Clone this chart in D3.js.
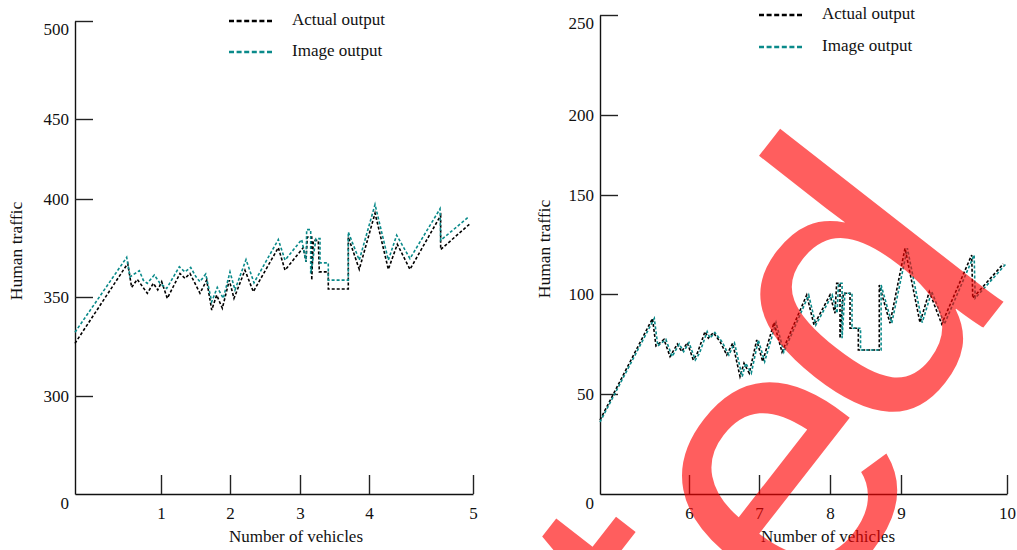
<!DOCTYPE html>
<html>
<head>
<meta charset="utf-8">
<script src="https://cdn.jsdelivr.net/npm/d3@7"></script>
<style>
  body { margin: 0; background: #fff; }
  svg text { font-family: "Liberation Serif", "Times New Roman", serif; }
</style>
</head>
<body>
<svg id="chart" width="1017" height="550"></svg>
<script>
// tick values
const leftXTicks = [1, 2, 3, 4, 5];
const leftYTicks = [0, 300, 350, 400, 450, 500];
const rightXTicks = [6, 7, 8, 9, 10];
const rightYTicks = [0, 50, 100, 150, 200, 250];
const seriesNames = ["Actual output", "Image output"];

// [number of vehicles, human traffic]
const leftActual = [[0,326.6],[0.613,367.1],[0.659,354.9],[0.724,359.0],[0.841,351.9],[0.911,357.0],[0.962,353.6],[1.010,357.8],[1.091,349.3],[1.275,362.0],[1.348,359.5],[1.420,362.0],[1.565,351.9],[1.662,358.6],[1.735,343.4],[1.807,351.0],[1.889,344.3],[1.990,358.6],[2.057,349.3],[2.214,363.7],[2.333,352.7],[2.690,375.2],[2.786,363.7],[3.048,375.2],[3.087,367.9],[3.106,380.6],[3.170,380.6],[3.170,358.6],[3.193,378.9],[3.265,378.9],[3.280,362.8],[3.410,362.8],[3.410,354.1],[3.700,354.1],[3.700,380.6],[3.859,364.1],[4.058,392.8],[4.186,364.1],[4.272,376.9],[4.394,364.1],[4.689,391.6],[4.689,374.2],[4.971,387.4]];
const leftImage = [[0,332.2],[0.601,370.2],[0.640,360.3],[0.748,363.4],[0.794,358.6],[0.841,357.0],[0.922,361.2],[0.988,357.0],[1.083,354.4],[1.265,365.4],[1.348,362.8],[1.430,365.1],[1.507,360.3],[1.565,357.8],[1.648,361.7],[1.735,347.6],[1.816,354.9],[1.903,349.3],[2.000,362.8],[2.071,353.6],[2.229,369.1],[2.343,357.3],[2.690,379.3],[2.786,368.8],[3.025,379.3],[3.087,367.9],[3.097,384.4],[3.155,384.4],[3.155,362.0],[3.232,379.8],[3.290,379.8],[3.290,367.4],[3.410,367.4],[3.410,358.6],[3.700,358.6],[3.700,383.1],[3.859,368.8],[4.058,397.2],[4.186,368.8],[4.266,381.5],[4.394,369.6],[4.683,395.0],[4.689,378.9],[4.963,391.1]];
const rightActual = [[5,37],[5.590,87.8],[5.629,74],[5.719,77.3],[5.787,68.7],[5.869,75],[5.918,71.2],[5.981,75.7],[6.061,67],[6.119,70.4],[6.229,81.2],[6.276,77.9],[6.347,80.7],[6.443,76.2],[6.539,69.5],[6.624,75.4],[6.729,58.7],[6.786,65.4],[6.861,60.4],[6.967,77],[7.052,66.2],[7.211,85.7],[7.324,71],[7.672,99.5],[7.775,84.5],[8.0,99.5],[8.070,90.4],[8.094,105.4],[8.141,105.4],[8.141,77.9],[8.187,100.4],[8.282,100.4],[8.282,82.9],[8.399,82.9],[8.399,72],[8.694,72],[8.694,104.5],[8.845,85.4],[9.038,123.1],[9.179,85.7],[9.267,101.2],[9.384,85],[9.667,119.7],[9.677,97.9],[9.965,115.2]];
const rightImage = [[5,36],[5.61,87.8],[5.65,74],[5.74,77.3],[5.81,68.7],[5.89,75],[5.94,71.2],[6.0,75.7],[6.09,67],[6.15,70.4],[6.26,81.2],[6.30,77.9],[6.37,80.7],[6.47,76.2],[6.57,69.5],[6.65,75.4],[6.76,58.7],[6.81,65.4],[6.89,60.4],[6.99,77],[7.08,66.2],[7.24,85.7],[7.35,71],[7.70,99.5],[7.80,84.5],[8.03,99.5],[8.10,90.4],[8.12,105.4],[8.17,105.4],[8.17,77.9],[8.21,100.4],[8.31,100.4],[8.31,82.9],[8.43,82.9],[8.43,72],[8.72,72],[8.72,104.5],[8.87,85.4],[9.06,123.1],[9.20,85.7],[9.29,101.2],[9.41,85],[9.69,119.7],[9.70,97.9],[9.99,115.2]];

const colors = ["#000000", "#0a8a8a"];
const svg = d3.select("#chart");

function panel(opt) {
  // axes are not evenly spaced in the original, so use piecewise scales
  const x = d3.scaleLinear().domain(opt.xDomain).range(opt.xRange);
  const y = d3.scaleLinear().domain(opt.yDomain).range(opt.yRange);
  const g = svg.append("g");

  const yAxis = g.append("g")
    .attr("transform", `translate(${opt.xRange[0]},0)`)
    .call(d3.axisLeft(y).tickValues(opt.yTicks).tickSize(-18).tickSizeOuter(0).tickPadding(6));
  yAxis.selectAll("text")
    .attr("font-family", "Liberation Serif").attr("font-size", 17).attr("fill", "#111")
    .attr("dy", (d, i) => (i === 0 ? 9 + 5.5 : i === opt.yTicks.length - 1 ? 7.5 + 5.5 : 5.5));
  yAxis.selectAll(".tick").filter(d => d === 0).select("line").remove();

  const xAxis = g.append("g")
    .attr("transform", `translate(0,${opt.yRange[0]})`)
    .call(d3.axisBottom(x).tickValues(opt.xTicks).tickFormat(d3.format("d"))
      .tickSize(-19).tickSizeOuter(0).tickPadding(13));
  xAxis.selectAll("text")
    .attr("font-family", "Liberation Serif").attr("font-size", 17).attr("fill", "#111");

  g.selectAll(".domain").attr("stroke", "#111").attr("stroke-width", 1.4);
  g.selectAll(".tick line").attr("stroke", "#222").attr("stroke-width", 1.4);

  g.append("text")
    .attr("x", opt.xTitle[0]).attr("y", opt.xTitle[1])
    .attr("text-anchor", "middle").attr("font-size", 17).attr("fill", "#111")
    .text("Number of vehicles");
  g.append("text")
    .attr("transform", `translate(${opt.yTitle[0]},${opt.yTitle[1]}) rotate(-90)`)
    .attr("text-anchor", "middle").attr("font-size", 17.5).attr("fill", "#111")
    .text("Human traffic");

  const line = d3.line().x(d => x(d[0])).y(d => y(d[1]));
  opt.series.forEach((s, i) => {
    g.append("path")
      .attr("d", line(s))
      .attr("fill", "none")
      .attr("stroke", colors[i])
      .attr("stroke-width", 1.6)
      .attr("stroke-dasharray", "3,2");
  });

  const leg = g.append("g");
  seriesNames.forEach((name, i) => {
    const ly = opt.legend[1] + i * opt.legend[2];
    leg.append("line")
      .attr("x1", opt.legend[0]).attr("x2", opt.legend[0] + 44)
      .attr("y1", ly).attr("y2", ly)
      .attr("stroke", colors[i]).attr("stroke-width", 2.4)
      .attr("stroke-dasharray", "5,2.6");
    leg.append("text")
      .attr("x", opt.legend[0] + 63).attr("y", ly + 4)
      .attr("font-size", 17).attr("fill", "#111")
      .text(name);
  });
}

panel({
  xDomain: [0, 1, 2, 3, 4, 5], xRange: [75, 161, 230, 300, 369, 473],
  yDomain: [0, 300, 350, 400, 450, 500], yRange: [494, 396, 297, 199, 119, 21],
  xTicks: leftXTicks, yTicks: leftYTicks,
  series: [leftActual, leftImage],
  xTitle: [296, 542], yTitle: [22, 251],
  legend: [229, 21, 31]
});

panel({
  xDomain: [5, 6, 7, 8, 9, 10], xRange: [600, 689, 759, 830, 901, 1007],
  yDomain: [0, 50, 100, 150, 200, 250], yRange: [494, 394, 294, 195, 115, 15],
  xTicks: rightXTicks, yTicks: rightYTicks,
  series: [rightActual, rightImage],
  xTitle: [828, 542], yTitle: [550, 249],
  legend: [759, 15, 32]
});

// red watermark over the figure, letters nudged one by one
const wm = svg.append("g")
  .attr("transform", "translate(1019,282) rotate(-52)");
function wmText(str) {
  return wm.append("text")
    .attr("text-anchor", "end")
    .style("font-family", "'Liberation Sans', Arial, sans-serif")
    .style("font-size", "390px")
    .attr("fill", "#ff0000")
    .attr("fill-opacity", 0.63)
    .text(str);
}
const dLen = wmText("d").node().getComputedTextLength();
const eText = wmText("e").attr("x", -dLen + 23).attr("y", 46);
const eLen = eText.node().getComputedTextLength();
wmText("Accept").attr("x", -dLen - eLen + 7).attr("y", 33);
</script>
</body>
</html>
